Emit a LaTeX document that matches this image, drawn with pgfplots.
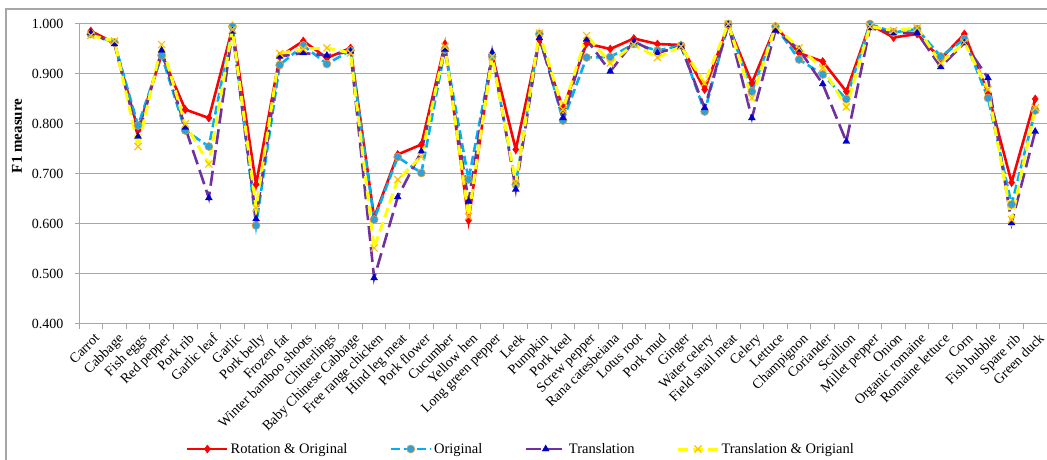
\documentclass[border=0pt]{standalone}
\usepackage{fontspec}
\setmainfont{Liberation Serif}
\usepackage{pgfplots}
\usepackage{pgfplotstable}
\pgfplotsset{compat=1.18}
\definecolor{rred}{HTML}{FF0000}
\definecolor{oblue}{HTML}{00B0F0}
\definecolor{ofill}{HTML}{2CA3D8}
\definecolor{oedge}{HTML}{EE9A3A}
\definecolor{tpurple}{HTML}{7030A0}
\definecolor{tfill}{HTML}{0000CC}
\definecolor{yline}{HTML}{FFFF00}
\definecolor{ymark}{HTML}{FFC000}
\definecolor{gridg}{HTML}{A6A6A6}
\pgfplotstableread{
x R O T TO
0 0.986 0.980 0.982 0.977
1 0.962 0.963 0.960 0.966
2 0.788 0.797 0.775 0.755
3 0.939 0.937 0.947 0.959
4 0.829 0.787 0.793 0.800
5 0.812 0.755 0.652 0.720
6 0.992 0.995 0.985 0.989
7 0.679 0.597 0.610 0.632
8 0.935 0.918 0.935 0.941
9 0.966 0.957 0.942 0.950
10 0.932 0.920 0.937 0.952
11 0.952 0.947 0.945 0.942
12 0.613 0.609 0.492 0.552
13 0.739 0.734 0.654 0.689
14 0.759 0.702 0.745 0.735
15 0.960 0.949 0.949 0.955
16 0.607 0.689 0.645 0.615
17 0.939 0.935 0.943 0.935
18 0.749 0.679 0.669 0.682
19 0.969 0.980 0.972 0.982
20 0.832 0.807 0.812 0.829
21 0.961 0.933 0.969 0.977
22 0.950 0.934 0.905 0.922
23 0.971 0.960 0.965 0.959
24 0.960 0.947 0.942 0.933
25 0.958 0.957 0.955 0.955
26 0.869 0.825 0.832 0.882
27 0.998 1.000 0.998 1.000
28 0.882 0.865 0.812 0.852
29 0.995 0.995 0.987 0.995
30 0.942 0.929 0.949 0.952
31 0.925 0.899 0.880 0.912
32 0.865 0.850 0.765 0.834
33 0.999 1.000 0.992 0.995
34 0.973 0.983 0.982 0.987
35 0.980 0.990 0.982 0.992
36 0.930 0.935 0.914 0.922
37 0.980 0.970 0.962 0.963
38 0.862 0.852 0.892 0.869
39 0.683 0.639 0.602 0.609
40 0.850 0.827 0.785 0.832
}\data
\begin{document}
\begin{tikzpicture}[x=1pt,y=1pt]
\useasboundingbox (0,0) rectangle (1047,460);
\draw[gridg, line width=1.5pt] (6,0) -- (6,451) -- (1047,451);
\begin{axis}[
  at={(79pt,136pt)}, anchor=south west,
  scale only axis, width=968pt, height=300pt,
  xmin=-0.5, xmax=40.5, ymin=0.4, ymax=1.0,
  clip=false,
  axis x line*=bottom, axis y line*=left,
  axis line style={-, gridg, line width=1pt},
  xtick={0,...,40},
  xticklabels={Carrot, Cabbage, Fish eggs, Red pepper, Pork rib, Garlic leaf, Garlic, Pork belly, Frozen fat, Winter bamboo shoots, Chitterlings, Baby Chinese Cabbage, Free range chicken, Hind leg meat, Pork flower, Cucumber, Yellow hen, Long green pepper, Leek, Pumpkin, Pork keel, Screw pepper, Rana catesbeiana, Lotus root, Pork mud, Ginger, Water celery, Field snail meat, Celery, Lettuce, Champignon, Coriander, Scallion, Millet pepper, Onion, Organic romaine, Romaine lettuce, Corn, Fish bubble, Spare rib, Green duck},
  minor xtick={-0.5,0.5,...,40.5},
  major x tick style={draw=none},
  minor x tick style={gridg, line width=1pt},
  minor tick length=5pt,
  tick align=outside,
  ytick={0.4,0.5,...,1.0},
  major y tick style={gridg, line width=1pt},
  major tick length=4pt,
  ymajorgrids,
  grid style={gridg, line width=1pt},
  yticklabel={\pgfmathprintnumber[fixed,fixed zerofill,precision=3]{\tick}},
  /pgf/number format/assume math mode=true,
  yticklabel style={font=\fontsize{14}{16}\selectfont, xshift=-8pt},
  xticklabel style={font=\fontsize{14}{16}\selectfont, rotate=45, anchor=north east, inner sep=1pt, yshift=-4pt},
  ylabel={\textbf{F1 measure}},
  ylabel style={at={(axis description cs:-0.064,0.627)}, anchor=center, font=\fontsize{15}{17}\selectfont},
  legend columns=4,
  legend style={at={(axis description cs:0.4566,-0.4167)}, anchor=center, draw=none, fill=none,
    font=\fontsize{14.5}{17}\selectfont,
    /tikz/every even column/.append style={column sep=40pt}},
  legend image code/.code={\draw[mark repeat=2,mark phase=2] plot coordinates {(0pt,0pt)(20pt,0pt)(40pt,0pt)};},
]
\addplot[rred, line width=2.6pt, mark=diamond*, mark size=4pt, mark options={solid, fill=rred, draw=rred, line width=0.5pt}] table[x=x,y=R]{\data};
\addlegendentry{Rotation \& Original}
\addplot[oblue, line width=2.6pt, dash pattern=on 9pt off 4pt, mark=*, mark size=4pt, mark options={solid, fill=ofill, draw=oedge, line width=0.6pt}] table[x=x,y=O]{\data};
\addlegendentry{Original}
\addplot[tpurple, line width=2.6pt, dash pattern=on 15pt off 6pt, mark=triangle*, mark size=4pt, mark options={solid, fill=tfill, draw=tfill, line width=0.4pt}] table[x=x,y=T]{\data};
\addlegendentry{Translation}
\addplot[yline, line width=3pt, dash pattern=on 10pt off 5pt, mark=x, mark size=5pt, mark options={solid, draw=ymark, line width=1.2pt}] table[x=x,y=TO]{\data};
\addlegendentry{Translation \& Origianl}
\end{axis}
\end{tikzpicture}
\end{document}
